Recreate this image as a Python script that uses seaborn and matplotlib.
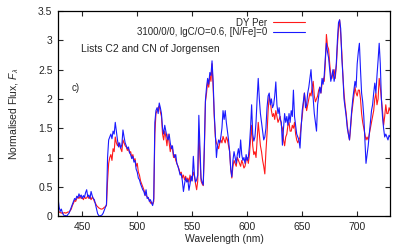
import numpy as np
import pandas as pd
import seaborn as sns
import matplotlib.pyplot as plt

# wavelength grid (nm), 1 nm steps
wavelength = [428, 429, 430, 431, 432, 433, 434, 435, 436, 437,
              438, 439, 440, 441, 442, 443, 444, 445, 446, 447,
              448, 449, 450, 451, 452, 453, 454, 455, 456, 457,
              458, 459, 460, 461, 462, 463, 464, 465, 466, 467,
              468, 469, 470, 471, 472, 473, 474, 475, 476, 477,
              478, 479, 480, 481, 482, 483, 484, 485, 486, 487,
              488, 489, 490, 491, 492, 493, 494, 495, 496, 497,
              498, 499, 500, 501, 502, 503, 504, 505, 506, 507,
              508, 509, 510, 511, 512, 513, 514, 515, 516, 517,
              518, 519, 520, 521, 522, 523, 524, 525, 526, 527,
              528, 529, 530, 531, 532, 533, 534, 535, 536, 537,
              538, 539, 540, 541, 542, 543, 544, 545, 546, 547,
              548, 549, 550, 551, 552, 553, 554, 555, 556, 557,
              558, 559, 560, 561, 562, 563, 564, 565, 566, 567,
              568, 569, 570, 571, 572, 573, 574, 575, 576, 577,
              578, 579, 580, 581, 582, 583, 584, 585, 586, 587,
              588, 589, 590, 591, 592, 593, 594, 595, 596, 597,
              598, 599, 600, 601, 602, 603, 604, 605, 606, 607,
              608, 609, 610, 611, 612, 613, 614, 615, 616, 617,
              618, 619, 620, 621, 622, 623, 624, 625, 626, 627,
              628, 629, 630, 631, 632, 633, 634, 635, 636, 637,
              638, 639, 640, 641, 642, 643, 644, 645, 646, 647,
              648, 649, 650, 651, 652, 653, 654, 655, 656, 657,
              658, 659, 660, 661, 662, 663, 664, 665, 666, 667,
              668, 669, 670, 671, 672, 673, 674, 675, 676, 677,
              678, 679, 680, 681, 682, 683, 684, 685, 686, 687,
              688, 689, 690, 691, 692, 693, 694, 695, 696, 697,
              698, 699, 700, 701, 702, 703, 704, 705, 706, 707,
              708, 709, 710, 711, 712, 713, 714, 715, 716, 717,
              718, 719, 720, 721, 722, 723, 724, 725, 726, 727,
              728, 729, 730]

# observed spectrum DY Per
flux_dyper = [0.10, 0.07, 0.06, 0.05, 0.06, 0.05, 0.06, 0.05, 0.06, 0.07,
              0.07, 0.09, 0.12, 0.18, 0.22, 0.27, 0.25, 0.30, 0.33, 0.30,
              0.34, 0.30, 0.32, 0.28, 0.33, 0.30, 0.31, 0.35, 0.30, 0.33,
              0.28, 0.32, 0.30, 0.25, 0.22, 0.18, 0.16, 0.14, 0.13, 0.12,
              0.12, 0.13, 0.15, 0.16, 0.18, 0.60, 0.90, 1.00, 1.05, 0.95,
              1.15, 1.10, 1.35, 1.25, 1.20, 1.25, 1.20, 1.15, 1.10, 1.30,
              1.25, 1.20, 1.18, 1.12, 1.15, 1.08, 1.10, 1.00, 1.05, 0.95,
              0.98, 0.85, 0.90, 0.75, 0.70, 0.60, 0.55, 0.50, 0.45, 0.38,
              0.35, 0.33, 0.30, 0.28, 0.22, 0.24, 0.20, 0.25, 1.40, 1.75,
              1.80, 1.85, 1.88, 1.78, 1.70, 1.40, 1.30, 1.45, 1.35, 1.20,
              1.40, 1.25, 1.10, 1.20, 1.15, 1.00, 1.05, 0.95, 0.90, 0.85,
              0.80, 0.72, 0.75, 0.65, 0.70, 0.62, 0.68, 0.60, 0.65, 0.58,
              0.70, 0.60, 0.65, 0.75, 0.68, 0.55, 0.45, 0.60, 1.45, 1.00,
              0.60, 0.55, 0.52, 1.10, 1.95, 2.10, 2.30, 2.20, 2.40, 2.30,
              2.60, 2.20, 1.70, 1.35, 1.25, 1.20, 1.15, 1.25, 1.30, 1.25,
              1.36, 1.30, 1.25, 1.35, 1.30, 1.20, 1.10, 0.80, 0.65, 0.85,
              0.95, 0.90, 0.85, 1.00, 0.95, 0.90, 0.85, 0.95, 0.90, 0.82,
              0.85, 0.95, 1.00, 0.90, 1.05, 1.30, 1.55, 1.20, 1.05, 1.10,
              1.00, 1.30, 1.60, 1.40, 1.20, 1.10, 0.95, 0.85, 0.72, 1.10,
              1.40, 1.80, 2.05, 1.95, 1.80, 1.70, 1.75, 1.65, 1.80, 1.70,
              1.60, 1.65, 1.70, 1.55, 1.50, 1.30, 1.20, 1.35, 1.40, 1.55,
              1.60, 1.45, 1.45, 1.55, 1.50, 1.60, 1.40, 1.30, 1.25, 1.30,
              1.35, 1.55, 1.70, 1.90, 2.10, 1.95, 1.80, 1.90, 2.00, 2.10,
              2.05, 2.20, 2.30, 2.05, 1.95, 2.00, 2.05, 2.15, 2.20, 2.10,
              2.25, 2.35, 2.30, 2.60, 3.10, 2.90, 2.85, 2.60, 2.40, 2.35,
              2.45, 2.50, 2.35, 2.55, 2.90, 3.20, 3.35, 3.10, 2.80, 2.40,
              2.10, 1.90, 1.75, 1.55, 1.40, 1.30, 1.50, 1.75, 1.90, 2.05,
              2.20, 2.10, 2.05, 2.15, 2.15, 2.00, 1.75, 1.60, 1.50, 1.40,
              1.30, 1.35, 1.30, 1.40, 1.50, 1.60, 1.70, 1.80, 2.00, 2.10,
              1.90, 2.00, 2.35, 2.20, 2.00, 1.80, 1.55, 1.70, 1.90, 1.75,
              1.75, 1.85, 1.80]

# model 3100/0/0, lgC/O=0.6, [N/Fe]=0
flux_model = [0.30, 0.15, 0.08, 0.12, 0.05, 0.02, 0.00, 0.01, 0.00, 0.03,
              0.05, 0.10, 0.15, 0.20, 0.25, 0.30, 0.28, 0.34, 0.31, 0.38,
              0.33, 0.36, 0.30, 0.35, 0.32, 0.40, 0.45, 0.33, 0.36, 0.30,
              0.42, 0.35, 0.30, 0.28, 0.20, 0.12, 0.04, 0.01, 0.00, 0.01,
              0.02, 0.05, 0.10, 0.15, 0.20, 1.00, 1.30, 1.35, 1.40, 1.32,
              1.45, 1.40, 1.60, 1.45, 1.30, 1.18, 1.25, 1.16, 1.22, 1.47,
              1.35, 1.25, 1.20, 1.15, 1.18, 1.08, 1.05, 0.98, 1.02, 0.92,
              0.95, 0.80, 0.75, 0.65, 0.62, 0.55, 0.50, 0.45, 0.42, 0.35,
              0.45, 0.30, 0.32, 0.25, 0.28, 0.22, 0.18, 0.30, 1.60, 1.80,
              1.85, 1.75, 1.93, 1.85, 1.75, 1.50, 1.40, 1.55, 1.45, 1.35,
              1.30, 1.40, 1.25, 1.15, 1.20, 1.05, 1.00, 1.05, 0.90, 0.85,
              0.78, 0.70, 0.72, 0.60, 0.42, 0.55, 0.65, 0.58, 0.62, 0.44,
              0.55, 0.68, 0.60, 1.02, 0.70, 0.58, 0.62, 0.70, 1.72, 1.20,
              0.65, 0.58, 0.53, 1.20, 1.98, 2.20, 2.35, 2.25, 2.45, 2.40,
              2.65, 2.30, 1.75, 1.40, 1.00, 1.20, 1.30, 1.25, 1.35, 1.50,
              1.80, 1.65, 1.80, 1.60, 1.45, 1.30, 1.10, 0.80, 0.67, 0.95,
              1.10, 1.00, 0.90, 1.05, 1.15, 1.00, 1.30, 1.05, 0.95, 1.00,
              0.90, 1.05, 0.95, 1.00, 1.20, 1.50, 1.90, 1.40, 1.28, 1.35,
              1.60, 2.00, 2.35, 2.00, 1.75, 1.60, 1.45, 1.30, 1.35, 1.50,
              1.85, 2.05, 2.10, 1.90, 2.00, 1.85, 1.90, 2.05, 2.29, 1.90,
              1.75, 1.85, 1.65, 1.60, 1.21, 1.50, 1.75, 1.60, 1.70, 1.55,
              1.75, 1.60, 1.80, 1.70, 2.15, 1.70, 1.55, 1.40, 1.35, 1.30,
              1.16, 1.50, 1.80, 1.95, 2.10, 1.85, 1.90, 2.10, 2.20, 2.35,
              2.50, 2.20, 2.00, 1.75, 1.60, 1.45, 1.90, 2.05, 2.20, 2.10,
              2.35, 2.25, 2.40, 2.70, 2.95, 2.80, 2.70, 2.50, 2.30, 2.40,
              2.50, 2.30, 2.40, 2.60, 3.00, 3.30, 3.35, 3.20, 2.70, 2.40,
              2.00, 1.85, 1.70, 1.50, 1.40, 1.30, 1.55, 1.80, 2.00, 2.15,
              2.30, 2.20, 2.60, 2.80, 2.95, 2.50, 2.10, 1.95, 1.70, 1.30,
              0.90, 1.05, 1.20, 1.40, 1.60, 1.80, 1.90, 2.10, 2.27, 2.10,
              2.40, 2.66, 2.95, 2.60, 2.00, 1.70, 1.50, 1.35, 1.40, 1.35,
              1.30, 1.38, 1.35]

label_obs = "DY Per"
label_model = "3100/0/0, lgC/O=0.6, [N/Fe]=0"

df = pd.DataFrame({"wl": wavelength, "obs": flux_dyper, "model": flux_model})

sns.set_style("ticks")
plt.rcParams["font.family"] = ["Liberation Sans", "DejaVu Sans"]
plt.rcParams["mathtext.fontset"] = "custom"
plt.rcParams["mathtext.it"] = "Liberation Sans:italic"
plt.rcParams["mathtext.rm"] = "Liberation Sans"

fig = plt.figure(figsize=(4.09, 2.45), dpi=100)
ax = fig.add_axes([0.142, 0.118, 0.812, 0.837])

sns.lineplot(data=df, x="wl", y="obs", color="#ff1a1a", lw=0.8, label=label_obs, ax=ax)
sns.lineplot(data=df, x="wl", y="model", color="#1a1aff", lw=0.8, label=label_model, ax=ax)

ax.set_xlim(428, 730)
ax.set_ylim(0, 3.5)
ax.set_xticks([450, 500, 550, 600, 650, 700])
ax.set_yticks([0, 0.5, 1, 1.5, 2, 2.5, 3, 3.5])
ax.set_yticklabels(["0", "0.5", "1", "1.5", "2", "2.5", "3", "3.5"])
ax.tick_params(direction="in", length=3.5, width=0.8, labelsize=7.5, top=True, right=True, pad=4)
for s in ax.spines.values():
    s.set_linewidth(0.9)
    s.set_color("black")

ax.set_xlabel("Wavelength (nm)", fontsize=7.5, labelpad=2)
ax.set_ylabel(r"Normalised Flux, $F_\lambda$", fontsize=7.5, labelpad=12)

ax.text(0.07, 0.815, "Lists C2 and CN of Jorgensen", transform=ax.transAxes, fontsize=7.5, va="center")
ax.text(0.04, 0.625, "c)", transform=ax.transAxes, fontsize=7, va="center")

leg = ax.legend(loc="upper right", bbox_to_anchor=(0.765, 1.0), frameon=False, markerfirst=False,
                fontsize=7, handlelength=3.3, labelspacing=-0.05, handletextpad=0.6, borderaxespad=0.3)

fig.savefig("out.png", dpi=100)
